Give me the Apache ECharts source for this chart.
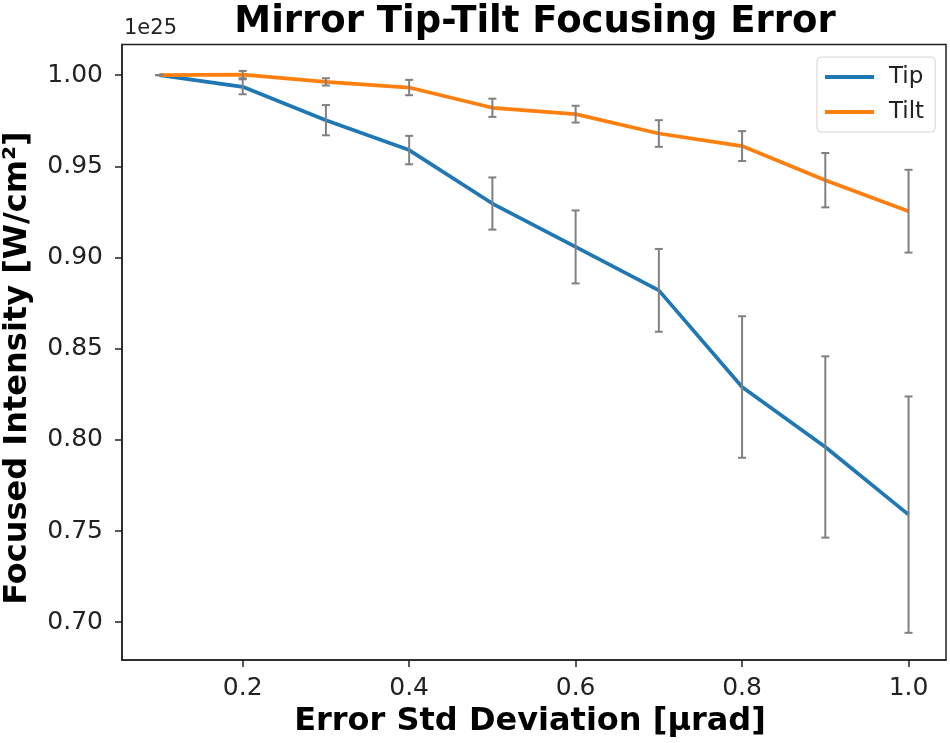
<!DOCTYPE html>
<html>
<head>
<meta charset="utf-8">
<script src="https://cdn.jsdelivr.net/npm/echarts@6/dist/echarts.min.js"></script>
<style>html,body{margin:0;padding:0;background:#fff}#c{width:950px;height:743px}</style>
</head>
<body>
<div id="c"></div>
<script>
// Data (intensity in units of 1e25 W/cm^2)
var xValues = [0.1, 0.2, 0.3, 0.4, 0.5, 0.6, 0.7, 0.8, 0.9, 1.0];
var tipMean = [1.000, 0.9936, 0.9753, 0.9589, 0.9296, 0.9058, 0.8820, 0.8290, 0.7961, 0.7590];
var tipErr  = [0.000, 0.0041, 0.0083, 0.0078, 0.0143, 0.0200, 0.0227, 0.0388, 0.0497, 0.0648];
var tiltMean = [1.000, 1.0003, 0.9963, 0.9932, 0.9821, 0.9786, 0.9680, 0.9611, 0.9424, 0.9254];
var tiltErr  = [0.000, 0.0020, 0.0020, 0.0042, 0.0050, 0.0046, 0.0073, 0.0082, 0.0149, 0.0227];
var xTicks = [0.2, 0.4, 0.6, 0.8, 1.0];
var yTicks = [0.70, 0.75, 0.80, 0.85, 0.90, 0.95, 1.00];

var FONT = 'DejaVu Sans';
function pairs(m) { return xValues.map(function (x, i) { return [x, m[i]]; }); }
function errData(m, e) { return xValues.map(function (x, i) { return [x, m[i] - e[i], m[i] + e[i]]; }); }

function renderErr(params, api) {
  var x = api.value(0), lo = api.value(1), hi = api.value(2);
  var pLo = api.coord([x, lo]), pHi = api.coord([x, hi]);
  var cap = 4;
  var st = { stroke: '#808080', lineWidth: 2 };
  return {
    type: 'group',
    children: [
      { type: 'line', shape: { x1: pLo[0], y1: pLo[1], x2: pHi[0], y2: pHi[1] }, style: st },
      { type: 'line', shape: { x1: pLo[0] - cap, y1: pLo[1], x2: pLo[0] + cap, y2: pLo[1] }, style: st },
      { type: 'line', shape: { x1: pHi[0] - cap, y1: pHi[1], x2: pHi[0] + cap, y2: pHi[1] }, style: st }
    ]
  };
}

var chart = echarts.init(document.getElementById('c'));
chart.setOption({
  animation: false,
  backgroundColor: '#fff',
  title: {
    text: 'Mirror Tip-Tilt Focusing Error',
    left: 530, top: -1, textAlign: 'center',
    textStyle: { fontFamily: FONT, fontWeight: 'bold', fontSize: 37, color: '#000' }
  },
  grid: { left: 122, right: 4, top: 44.5, bottom: 83, show: true, borderColor: '#222', borderWidth: 1.5, backgroundColor: 'transparent' },
  legend: {
    orient: 'vertical', left: 817, top: 57,
    padding: [7, 11, 7, 8], itemGap: 9,
    itemWidth: 49, itemHeight: 4, icon: 'rect',
    borderColor: '#d5d5d5', borderWidth: 1, borderRadius: 4, backgroundColor: 'rgba(255,255,255,0.8)',
    textStyle: { fontFamily: FONT, fontSize: 23, color: '#222', lineHeight: 26, padding: [0, 0, 0, 10] },
    data: ['Tip', 'Tilt']
  },
  xAxis: {
    type: 'value', min: 0.055, max: 1.045,
    axisLine: { show: true, lineStyle: { color: '#222', width: 1.5 } },
    axisTick: { show: true, length: 7, lineStyle: { color: '#222', width: 1.5 }, customValues: xTicks },
    axisLabel: { customValues: xTicks, formatter: function (v) { return v.toFixed(1); }, fontFamily: FONT, fontSize: 25, color: '#222', margin: 16 },
    splitLine: { show: false }
  },
  yAxis: {
    type: 'value', min: 0.6793, max: 1.0168,
    axisLine: { show: true, lineStyle: { color: '#222', width: 1.5 } },
    axisTick: { show: true, length: 7, lineStyle: { color: '#222', width: 1.5 }, customValues: yTicks },
    axisLabel: { customValues: yTicks, formatter: function (v) { return v.toFixed(2); }, fontFamily: FONT, fontSize: 25, color: '#222', margin: 19 },
    splitLine: { show: false }
  },
  graphic: [
    { type: 'text', left: 124, top: 18, style: { text: '1e25', font: '21px "DejaVu Sans"', fill: '#222' } },
    { type: 'text', x: 530, y: 722, style: { text: 'Error Std Deviation [μrad]', font: 'bold 32px "DejaVu Sans"', fill: '#000', textAlign: 'center', textVerticalAlign: 'middle' } },
    { type: 'text', x: 18, y: 368, rotation: Math.PI / 2, style: { text: 'Focused Intensity [W/cm²]', font: 'bold 32px "DejaVu Sans"', fill: '#000', textAlign: 'center', textVerticalAlign: 'middle' } }
  ],
  series: [
    { name: 'Tip', type: 'line', data: pairs(tipMean), symbol: 'none', color: '#1f77b4', lineStyle: { width: 3.7, color: '#1f77b4' }, z: 3 },
    { name: 'Tilt', type: 'line', data: pairs(tiltMean), symbol: 'none', color: '#ff7f0e', lineStyle: { width: 3.7, color: '#ff7f0e' }, z: 3 },
    { name: 'TipErr', type: 'custom', data: errData(tipMean, tipErr), renderItem: renderErr, encode: { x: 0, y: [1, 2] }, z: 4 },
    { name: 'TiltErr', type: 'custom', data: errData(tiltMean, tiltErr), renderItem: renderErr, encode: { x: 0, y: [1, 2] }, z: 4 }
  ]
});
</script>
</body>
</html>
